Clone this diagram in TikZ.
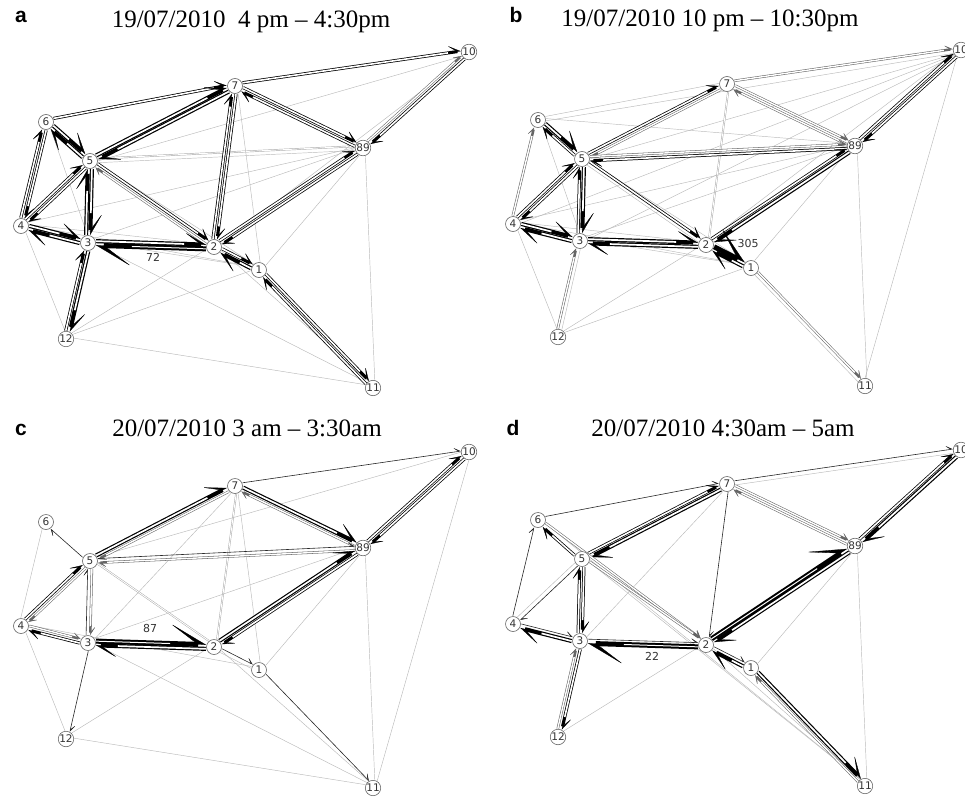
\documentclass[tikz,border=0pt]{standalone}
\usepackage{fontspec}
\setmainfont{Liberation Serif}
\newfontfamily\lblfont{DejaVu Sans}
\newfontfamily\tagfont{Liberation Sans}
\usetikzlibrary{calc,arrows.meta}
\pgfdeclarelayer{bg}
\pgfsetlayers{bg,main}

\tikzset{
  x=1pt,y=-1pt,
  vtx/.style={circle,draw=black!60,line width=0.6pt,fill=white,inner sep=0pt,
    minimum size=15pt,text=black!80,font=\lblfont\fontsize{10.5}{10.5}\selectfont},
  wlabel/.style={font=\lblfont\fontsize{11}{11}\selectfont,text=black!80},
  title/.style={font=\fontsize{25}{25}\selectfont},
  tag/.style={font=\tagfont\bfseries\fontsize{21}{21}\selectfont},
  link/.style={shorten <=8pt,shorten >=8pt},
  % faint, no tip
  ef/.style={link,draw=black!27,line width=0.45pt},
  ef core/.style={draw=none},
  % faint band, no tip
  eb/.style={link,draw=black!35,line width=1.8pt},
  eb core/.style={link,draw=white,line width=0.9pt},
  % thin line with small tip
  et/.style={link,draw=black!85,line width=0.6pt,
    -{Stealth[harpoon,length=8pt,width=10pt,inset=6pt,line width=0.3pt]}},
  et core/.style={draw=none},
  % light band
  el/.style={link,draw=black!60,line width=2.5pt,
    -{Stealth[harpoon,length=9pt,width=11pt,inset=6.5pt,line width=0.3pt]}},
  el core/.style={shorten <=8pt,shorten >=17pt,draw=white,line width=1.4pt},
  % medium band
  em/.style={link,draw=black,line width=3.1pt,
    -{Stealth[harpoon,length=13pt,width=15pt,inset=9.5pt,line width=0.3pt]}},
  em core/.style={shorten <=8pt,shorten >=21pt,draw=white,line width=1.6pt},
  % heavy band
  eh/.style={link,draw=black,line width=4.1pt,
    -{Stealth[harpoon,length=22pt,width=24pt,inset=17pt,line width=0.3pt]}},
  eh core/.style={shorten <=8pt,shorten >=30pt,draw=white,line width=1.7pt},
  % heaviest band
  ex/.style={link,draw=black,line width=5pt,
    -{Stealth[harpoon,length=36pt,width=40pt,inset=28pt,line width=0.3pt]}},
  ex core/.style={shorten <=8pt,shorten >=44pt,draw=white,line width=1pt},
}

% one directed link, drawn slightly to the left of the centre line
\newcommand\lnk[4]{%
  \draw[#4] ($(#1#2)!2.1pt!90:(#1#3)$) -- ($(#1#3)!2.1pt!-90:(#1#2)$);
  \draw[#4 core] ($(#1#2)!2.1pt!90:(#1#3)$) -- ($(#1#3)!2.1pt!-90:(#1#2)$);}
\newcommand\links[2]{\foreach \u/\v/\s in {#2}{\edef\tmp{\noexpand\lnk{#1}{\u}{\v}{\s}}\tmp}}

% the twelve stations of one panel
\newcommand\stations[3]{%
  \begin{scope}[shift={(#2,#3)}]
    \foreach \n/\px/\py in {1/259/270,2/214/247,3/88/243,4/21/226,5/90/161,6/46/122,
      7/235/86,89/363/148,10/469/52,11/373/388,12/66/339}
      \node[vtx] (#1\n) at (\px,\py) {\n};
  \end{scope}}

\begin{document}
\begin{tikzpicture}
\useasboundingbox (0,0) rectangle (965,797);

% panel headings
\node[tag] (la) at (21,17) {a};
\node[tag] (lb) at (516,15) {b};
\node[tag] (lc) at (21,430) {c};
\node[tag] (ld) at (513,428) {d};
\node[title] (ta) at (251,22) {19/07/2010\ \ 4 pm – 4:30pm};
\node[title] (tb) at (710,21) {19/07/2010 10 pm – 10:30pm};
\node[title] (tc) at (247,428) {20/07/2010 3 am – 3:30am};
\node[title] (td) at (723,428) {20/07/2010 4:30am – 5am};

\stations{a}{0}{0}
\stations{b}{492}{-2}
\stations{c}{0}{400}
\stations{d}{492}{398}

\node[wlabel] (wa) at (153,257) {72};
\node[wlabel] (wb) at (748,243) {305};
\node[wlabel] (wc) at (150,628) {87};
\node[wlabel] (wd) at (652,656) {22};

\begin{pgfonlayer}{bg}
% panel a
\links{a}{5/89/eb,89/5/ef,4/89/ef,3/89/ef,7/1/ef,89/11/ef,89/1/ef,12/2/ef,12/11/ef,
  12/1/ef,3/11/ef,3/1/ef,4/12/ef,4/1/ef,6/3/ef,10/2/ef,10/5/ef,2/11/ef,4/2/ef,5/1/ef}
\links{a}{6/7/em,7/10/em,10/89/em,89/10/el,7/89/em,89/7/em,
  7/2/em,2/7/em,89/2/em,2/89/em,4/6/em,6/4/em,5/4/em,4/5/em,5/2/em,2/5/el,11/1/em,1/11/em,
  5/7/eh,7/5/eh,6/5/eh,5/6/eh,5/3/eh,3/5/eh,4/3/eh,3/4/eh,3/2/eh,2/3/ex,
  1/2/eh,2/1/em,3/12/eh,12/3/em}
% panel b
\links{b}{10/5/ef,10/4/ef,10/6/ef,10/3/ef,6/7/ef,7/2/eb,6/89/ef,2/5/ef,3/12/ef,11/1/ef,
  4/12/ef,12/1/ef,12/2/ef,3/1/ef,1/89/ef,11/10/ef,4/89/ef,3/89/ef,4/2/ef,4/1/ef,6/3/ef,
  5/1/ef,2/10/ef,89/11/ef}
\links{b}{7/10/el,5/7/em,7/5/el,7/89/el,89/7/el,89/5/em,5/89/el,10/89/em,89/10/em,
  89/2/eh,2/89/em,6/5/eh,5/6/em,4/6/el,4/5/em,5/4/em,5/3/eh,3/5/em,3/4/eh,4/3/eh,
  2/3/eh,3/2/eh,5/2/em,1/2/eh,2/1/ex,12/3/el,1/11/el}
% panel c
\links{c}{5/2/eb,7/2/eb,4/6/ef,4/12/ef,12/2/ef,12/11/ef,3/11/ef,2/11/ef,7/1/ef,89/11/ef,
  10/11/ef,89/1/ef,5/10/ef,3/89/ef,7/3/ef,4/1/ef,1/2/ef}
\links{c}{7/10/et,10/89/em,89/10/em,7/5/el,5/7/eh,89/7/el,7/89/eh,5/89/et,89/5/el,
  89/2/em,2/89/eh,5/6/et,4/5/em,5/4/el,5/3/el,3/5/et,4/3/el,3/4/em,2/3/eh,3/2/ex,
  2/1/et,1/11/et,3/12/et}
% panel d
\links{d}{7/3/ef,2/11/ef,6/11/ef,5/11/ef,89/11/ef,89/1/ef,10/7/ef,4/5/ef,12/2/ef}
\links{d}{7/10/et,89/10/em,10/89/eh,6/7/et,5/7/em,7/5/eh,7/89/el,89/7/el,89/2/eh,
  2/89/ex,7/2/et,5/6/em,6/2/el,5/2/el,4/6/et,5/4/et,5/3/em,3/5/em,3/4/eh,4/3/et,
  3/2/et,2/3/ex,1/2/eh,2/1/et,11/1/el,1/11/eh,3/12/em,12/3/el}
\end{pgfonlayer}
\end{tikzpicture}
\end{document}
